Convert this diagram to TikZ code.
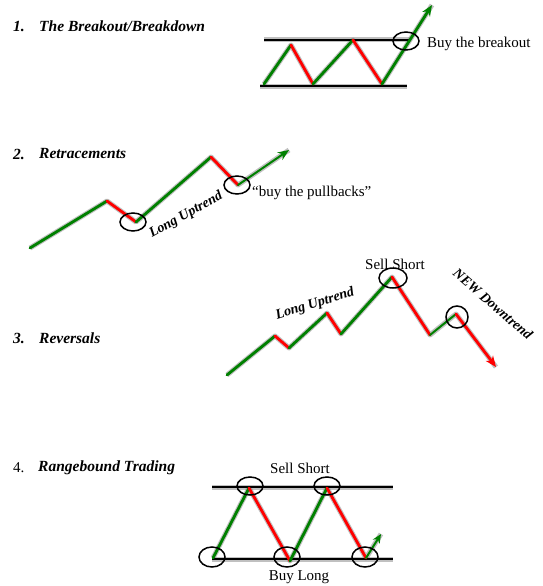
\documentclass[tikz,border=0pt]{standalone}
\usepackage{fontspec}
\setmainfont{Liberation Serif}
\usetikzlibrary{arrows.meta}
\tikzset{>=Stealth}
\definecolor{trendgreen}{RGB}{0,128,0}
\definecolor{trendred}{RGB}{255,0,0}
\tikzstyle{rise}=[trendgreen,line width=2.8pt,line cap=round]
\tikzstyle{fall}=[trendred,line width=2.8pt,line cap=round]
\tikzstyle{level}=[black,line width=2.8pt]
\tikzstyle{ring}=[black,line width=1.5pt]
\tikzstyle{shade}=[black!45,line width=5pt,opacity=.55,line join=round,shift={(3,4)}]
\tikzstyle{tip}=[-{Stealth[length=11pt,width=9pt]}]
\tikzstyle{heading}=[anchor=west,inner sep=0pt,font=\fontsize{15.5}{18}\selectfont\bfseries\itshape]
\tikzstyle{tag}=[inner sep=0pt,font=\fontsize{15}{18}\selectfont]
\tikzstyle{trendtag}=[inner sep=0pt,font=\fontsize{14}{16}\selectfont\bfseries\itshape]

\begin{document}
\begin{tikzpicture}[x=1pt,y=-1pt]
    \useasboundingbox (0,0) rectangle (543,586);
    % 1. breakout
    \node[heading] (n1) at (13,26) {1.};
    \node[heading] (t1) at (39,26) {The Breakout/Breakdown};
    \coordinate (tl1) at (264,40);
    \coordinate (tr1) at (410,40);
    \coordinate (bl1) at (260,86);
    \coordinate (br1) at (407,86);
    \coordinate (a0) at (264,84);
    \coordinate (a1) at (291,45);
    \coordinate (a2) at (313,84);
    \coordinate (a3) at (353,40);
    \coordinate (a4) at (382,84);
    \coordinate (a5) at (432,5);
    \draw[shade] (a0)--(a1)--(a2)--(a3)--(a4)--(a5);
    \draw[shade] (tl1)--(tr1);
    \draw[shade] (bl1)--(br1);
    \draw[level] (tl1)--(tr1);
    \draw[level] (bl1)--(br1);
    \draw[rise] (a0)--(a1);
    \draw[fall] (a1)--(a2);
    \draw[rise] (a2)--(a3);
    \draw[fall] (a3)--(a4);
    \draw[rise,tip] (a4)--(a5);
    \draw[ring] (406,41) ellipse [x radius=13,y radius=9];
    \node[tag,anchor=west] (buy1) at (427,44) {Buy the breakout};

    % 2. retracements
    \node[heading] (n2) at (13,154) {2.};
    \node[heading] (t2) at (39,154) {Retracements};
    \coordinate (b0) at (30,248);
    \coordinate (b1) at (107,201);
    \coordinate (b2) at (136,222);
    \coordinate (b3) at (211,157);
    \coordinate (b4) at (238,185);
    \coordinate (b5) at (289,150);
    \draw[shade] (b0)--(b1)--(b2)--(b3)--(b4)--(b5);
    \draw[rise] (b0)--(b1);
    \draw[fall] (b1)--(b2);
    \draw[rise] (b2)--(b3);
    \draw[fall] (b3)--(b4);
    \draw[rise,line width=2pt,tip] (b4)--(b5);
    \draw[ring] (133,222) ellipse [x radius=13,y radius=9];
    \draw[ring] (237,185) ellipse [x radius=13,y radius=9];
    \node[trendtag,rotate=29] (up2) at (186,215) {Long Uptrend};
    \node[tag,anchor=west] (buy2) at (252,193) {“buy the pullbacks”};

    % 3. reversals
    \node[heading] (n3) at (13,338) {3.};
    \node[heading] (t3) at (39,338) {Reversals};
    \coordinate (c0) at (227,375);
    \coordinate (c1) at (275,336);
    \coordinate (c2) at (289,348);
    \coordinate (c3) at (327,313);
    \coordinate (c4) at (341,334);
    \coordinate (c5) at (392,277);
    \coordinate (c6) at (430,335);
    \coordinate (c7) at (456,314);
    \coordinate (c8) at (496,367);
    \draw[shade] (c0)--(c1)--(c2)--(c3)--(c4)--(c5)--(c6)--(c7)--(c8);
    \draw[rise] (c0)--(c1);
    \draw[fall] (c1)--(c2);
    \draw[rise] (c2)--(c3);
    \draw[fall] (c3)--(c4);
    \draw[rise] (c4)--(c5);
    \draw[fall] (c5)--(c6);
    \draw[rise,line width=2pt] (c6)--(c7);
    \draw[fall,tip] (c7)--(c8);
    \draw[ring] (393,278) ellipse [x radius=14,y radius=10];
    \draw[ring] (457,317) ellipse [x radius=11,y radius=11];
    \node[tag] (sell3) at (395,264) {Sell Short};
    \node[trendtag,rotate=17] (up3) at (315,304) {Long Uptrend};
    \node[trendtag,rotate=-41] (down3) at (493,304) {NEW Downtrend};

    % 4. rangebound
    \node[tag,anchor=west] (n4) at (13,468) {4.};
    \node[heading] (t4) at (38,468) {Rangebound Trading};
    \coordinate (tl4) at (212,487);
    \coordinate (tr4) at (393,487);
    \coordinate (bl4) at (212,559);
    \coordinate (br4) at (393,559);
    \coordinate (d0) at (213,558);
    \coordinate (d1) at (249,488);
    \coordinate (d2) at (290,561);
    \coordinate (d3) at (327,488);
    \coordinate (d4) at (366,558);
    \coordinate (d5) at (381,534);
    \draw[shade] (tl4)--(tr4);
    \draw[shade] (bl4)--(br4);
    \draw[shade] (d0)--(d1)--(d2)--(d3)--(d4)--(d5);
    \draw[level] (tl4)--(tr4);
    \draw[level] (bl4)--(br4);
    \draw[rise] (d0)--(d1);
    \draw[fall] (d1)--(d2);
    \draw[rise] (d2)--(d3);
    \draw[fall] (d3)--(d4);
    \draw[rise,line width=2pt,-{Stealth[length=9pt,width=8pt]}] (d4)--(d5);
    \draw[ring] (250,486) ellipse [x radius=13,y radius=9];
    \draw[ring] (327,486) ellipse [x radius=13,y radius=9];
    \draw[ring] (212,557) ellipse [x radius=13,y radius=10];
    \draw[ring] (287,557) ellipse [x radius=13,y radius=10];
    \draw[ring] (365,557) ellipse [x radius=13,y radius=10];
    \node[tag] (sell4) at (300,468) {Sell Short};
    \node[tag] (buy4) at (299,577) {Buy Long};
\end{tikzpicture}
\end{document}
